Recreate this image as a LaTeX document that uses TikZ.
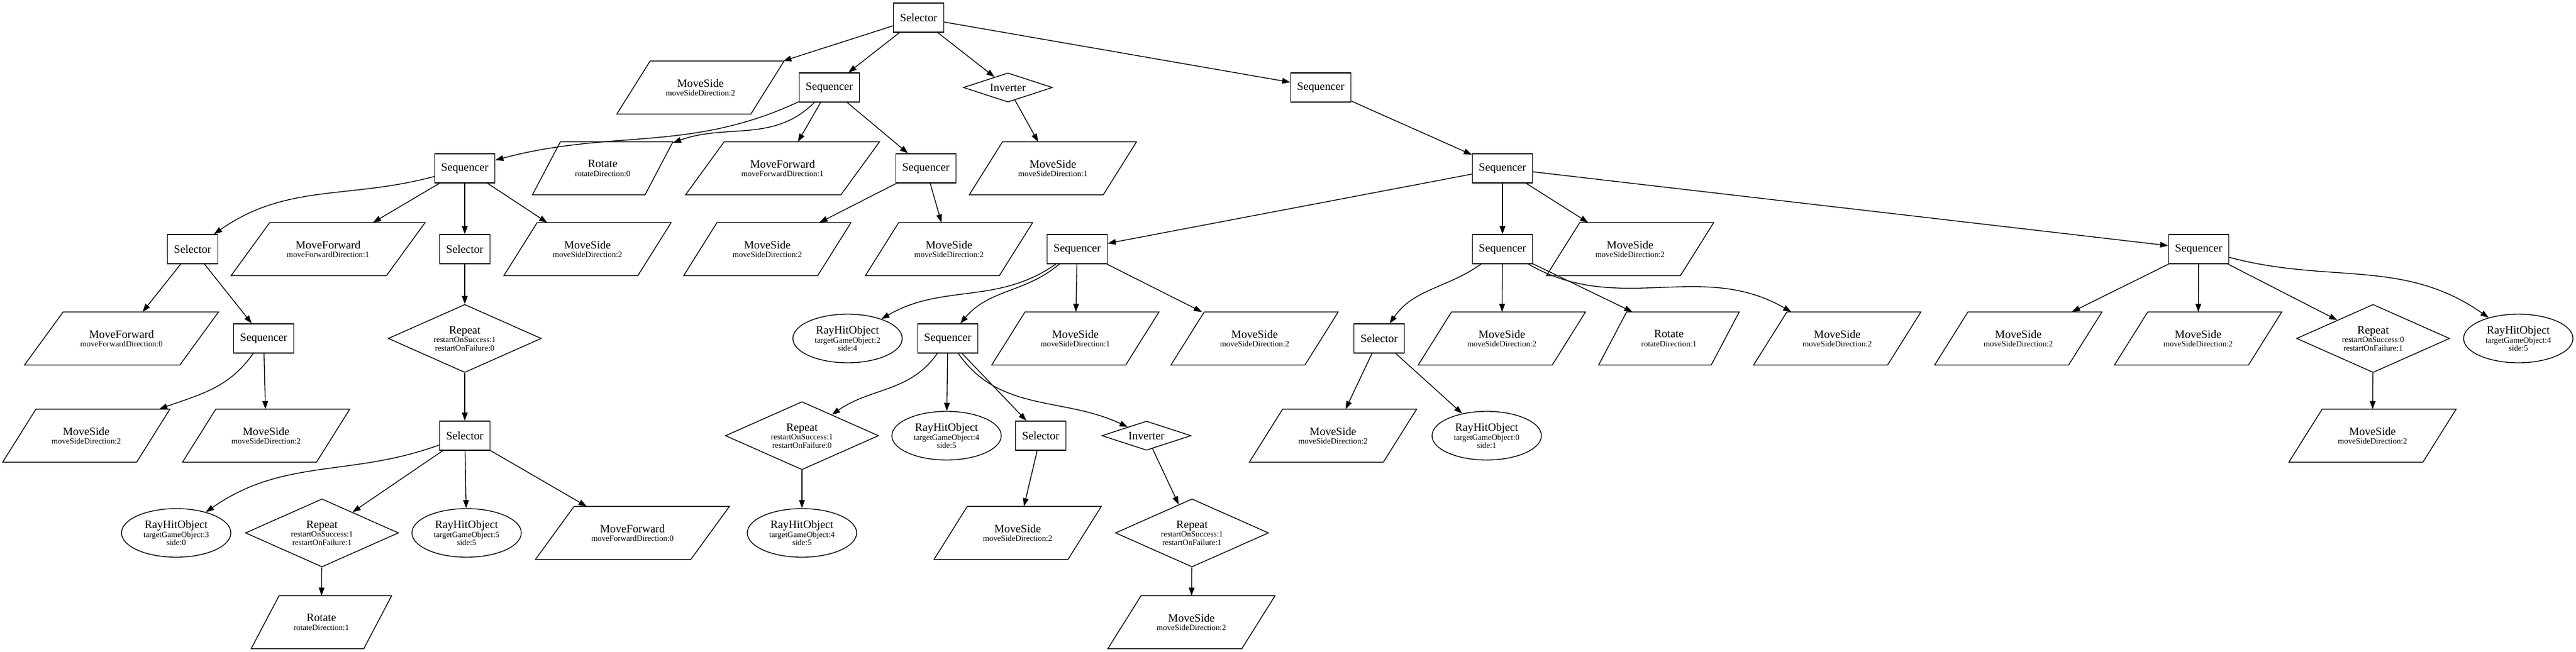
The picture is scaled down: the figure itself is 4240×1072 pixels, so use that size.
\documentclass[tikz,border=0pt]{standalone}
\usepackage{fontspec}
\setmainfont{Liberation Serif}
\usetikzlibrary{shapes.geometric,arrows.meta}

\newcommand{\nodetitle}[1]{{\fontsize{14}{14}\selectfont #1}}

\tikzset{
    ctrl/.style={draw,rectangle,minimum height=36pt,inner xsep=8pt,font=\fontsize{14}{14}\selectfont},
    act/.style={minimum width=#1,minimum height=64.5pt,inner sep=0pt,align=center,
        font=\fontsize{10}{10}\selectfont,
        append after command={([xshift=0.2*#1]\tikzlastnode.north west) -- (\tikzlastnode.north east)
            -- ([xshift=-0.2*#1]\tikzlastnode.south east) -- (\tikzlastnode.south west) -- cycle}},
    act/.default=205.5pt,
    cond/.style={draw,ellipse,minimum width=135pt,minimum height=60pt,inner sep=0pt,align=center,
        font=\fontsize{10}{10}\selectfont},
    repnode/.style={draw,diamond,aspect=2.25,minimum width=189pt,minimum height=84pt,inner sep=0pt,
        align=center,font=\fontsize{10}{10}\selectfont},
    invnode/.style={draw,diamond,aspect=3,minimum width=110pt,minimum height=36pt,inner sep=0pt,
        font=\fontsize{14}{14}\selectfont}
}

\begin{document}
\begin{tikzpicture}[x=0.75pt,y=-0.75pt,line width=1pt,>={Triangle[length=10pt,width=7pt]}]
        \useasboundingbox (0,0) rectangle (4240,1072);
        \draw (1512,29) node[ctrl](sel0) {Selector};
        \draw (1153,144) node[act](ms1) {\nodetitle{MoveSide}\\[1pt]moveSideDirection:2};
        \draw (1365,144) node[ctrl](seq1) {Sequencer};
        \draw (1659,144) node[invnode](inv1) {Inverter};
        \draw (2174,144) node[ctrl](seq2) {Sequencer};
        \draw (765,277) node[ctrl](seq3) {Sequencer};
        \draw (992,277) node[act=172.5pt](rot0) {\nodetitle{Rotate}\\[1pt]rotateDirection:0};
        \draw (1288,277) node[act=238.5pt](mf1) {\nodetitle{MoveForward}\\[1pt]moveForwardDirection:1};
        \draw (1524,277) node[ctrl](seq4) {Sequencer};
        \draw (1733,277) node[act](ms2) {\nodetitle{MoveSide}\\[1pt]moveSideDirection:1};
        \draw (2473,277) node[ctrl](seq5) {Sequencer};
        \draw (317,410) node[ctrl](sel1) {Selector};
        \draw (540,410) node[act=238.5pt](mf2) {\nodetitle{MoveForward}\\[1pt]moveForwardDirection:1};
        \draw (765,410) node[ctrl](sel2) {Selector};
        \draw (967,410) node[act](ms3) {\nodetitle{MoveSide}\\[1pt]moveSideDirection:2};
        \draw (1263,410) node[act](ms4) {\nodetitle{MoveSide}\\[1pt]moveSideDirection:2};
        \draw (1562,410) node[act](ms5) {\nodetitle{MoveSide}\\[1pt]moveSideDirection:2};
        \draw (1773,410) node[ctrl](seq6) {Sequencer};
        \draw (2473,410) node[ctrl](seq7) {Sequencer};
        \draw (2683,410) node[act](ms6) {\nodetitle{MoveSide}\\[1pt]moveSideDirection:2};
        \draw (3619,410) node[ctrl](seq8) {Sequencer};
        \draw (200,557) node[act=238.5pt](mf3) {\nodetitle{MoveForward}\\[1pt]moveForwardDirection:0};
        \draw (434,557) node[ctrl](seq9) {Sequencer};
        \draw (765,557) node[repnode](rep1) {\nodetitle{Repeat}\\[1pt]restartOnSuccess:1\\restartOnFailure:0};
        \draw (1395,557) node[cond](ray1) {\nodetitle{RayHitObject}\\[1pt]targetGameObject:2\\side:4};
        \draw (1560,557) node[ctrl](seq10) {Sequencer};
        \draw (1770,557) node[act](ms7) {\nodetitle{MoveSide}\\[1pt]moveSideDirection:1};
        \draw (2065,557) node[act](ms8) {\nodetitle{MoveSide}\\[1pt]moveSideDirection:2};
        \draw (2270,557) node[ctrl](sel3) {Selector};
        \draw (2472,557) node[act](ms9) {\nodetitle{MoveSide}\\[1pt]moveSideDirection:2};
        \draw (2747,557) node[act=172.5pt](rot1) {\nodetitle{Rotate}\\[1pt]rotateDirection:1};
        \draw (3024,557) node[act](ms10) {\nodetitle{MoveSide}\\[1pt]moveSideDirection:2};
        \draw (3322,557) node[act](ms11) {\nodetitle{MoveSide}\\[1pt]moveSideDirection:2};
        \draw (3618,557) node[act](ms12) {\nodetitle{MoveSide}\\[1pt]moveSideDirection:2};
        \draw (3906,557) node[repnode](rep2) {\nodetitle{Repeat}\\[1pt]restartOnSuccess:0\\restartOnFailure:1};
        \draw (4145,557) node[cond](ray2) {\nodetitle{RayHitObject}\\[1pt]targetGameObject:4\\side:5};
        \draw (142,717) node[act](ms13) {\nodetitle{MoveSide}\\[1pt]moveSideDirection:2};
        \draw (438,717) node[act](ms14) {\nodetitle{MoveSide}\\[1pt]moveSideDirection:2};
        \draw (765,717) node[ctrl](sel4) {Selector};
        \draw (1320,717) node[repnode](rep3) {\nodetitle{Repeat}\\[1pt]restartOnSuccess:1\\restartOnFailure:0};
        \draw (1558,717) node[cond](ray3) {\nodetitle{RayHitObject}\\[1pt]targetGameObject:4\\side:5};
        \draw (1713,717) node[ctrl](sel5) {Selector};
        \draw (1887,717) node[invnode](inv2) {Inverter};
        \draw (2194,717) node[act](ms15) {\nodetitle{MoveSide}\\[1pt]moveSideDirection:2};
        \draw (2447,717) node[cond](ray4) {\nodetitle{RayHitObject}\\[1pt]targetGameObject:0\\side:1};
        \draw (3905,717) node[act](ms16) {\nodetitle{MoveSide}\\[1pt]moveSideDirection:2};
        \draw (290,877) node[cond](ray5) {\nodetitle{RayHitObject}\\[1pt]targetGameObject:3\\side:0};
        \draw (530,877) node[repnode](rep4) {\nodetitle{Repeat}\\[1pt]restartOnSuccess:1\\restartOnFailure:1};
        \draw (768,877) node[cond](ray6) {\nodetitle{RayHitObject}\\[1pt]targetGameObject:5\\side:5};
        \draw (1041,877) node[act=238.5pt](mf4) {\nodetitle{MoveForward}\\[1pt]moveForwardDirection:0};
        \draw (1320,877) node[cond](ray7) {\nodetitle{RayHitObject}\\[1pt]targetGameObject:4\\side:5};
        \draw (1675,877) node[act](ms17) {\nodetitle{MoveSide}\\[1pt]moveSideDirection:2};
        \draw (1962,877) node[repnode](rep5) {\nodetitle{Repeat}\\[1pt]restartOnSuccess:1\\restartOnFailure:1};
        \draw (529,1024) node[act=172.5pt](rot2) {\nodetitle{Rotate}\\[1pt]rotateDirection:1};
        \draw (1961,1024) node[act](ms18) {\nodetitle{MoveSide}\\[1pt]moveSideDirection:2};

        \draw[->] (sel0) -- (ms1);
        \draw[->] (sel0) -- (seq1);
        \draw[->] (sel0) -- (inv1);
        \draw[->] (sel0) -- (seq2);
        \draw[->] (seq1) to[out=205,in=15] (seq3);
        \draw[->] (seq1) to[out=225,in=20] (rot0);
        \draw[->] (seq1) -- (mf1);
        \draw[->] (seq1) -- (seq4);
        \draw[->] (inv1) -- (ms2);
        \draw[->] (seq2) -- (seq5);
        \draw[->] (seq3) to[out=195,in=35] (sel1);
        \draw[->] (seq3) -- (mf2);
        \draw[->] (seq3) -- (sel2);
        \draw[->] (seq3) -- (ms3);
        \draw[->] (seq4) -- (ms4);
        \draw[->] (seq4) -- (ms5);
        \draw[->] (seq5) -- (seq6);
        \draw[->] (seq5) -- (seq7);
        \draw[->] (seq5) -- (ms6);
        \draw[->] (seq5) -- (seq8);
        \draw[->] (sel1) -- (mf3);
        \draw[->] (sel1) -- (seq9);
        \draw[->] (sel2) -- (rep1);
        \draw[->] (seq6) to[out=215,in=30] (ray1);
        \draw[->] (seq6) to[out=220,in=50] (seq10);
        \draw[->] (seq6) -- (ms7);
        \draw[->] (seq6) -- (ms8);
        \draw[->] (seq7) to[out=215,in=55] (sel3);
        \draw[->] (seq7) -- (ms9);
        \draw[->] (seq7) -- ([xshift=-45pt]rot1.north);
        \draw[->] (seq7) to[out=-30,in=150] (ms10);
        \draw[->] (seq8) -- (ms11);
        \draw[->] (seq8) -- (ms12);
        \draw[->] (seq8) -- (rep2);
        \draw[->] (seq8) to[out=-15,in=145] (ray2);
        \draw[->] (seq9) to[out=235,in=20] (ms13);
        \draw[->] (seq9) -- (ms14);
        \draw[->] (rep1) -- (sel4);
        \draw[->] (seq10) to[out=235,in=35] (rep3);
        \draw[->] (seq10) -- (ray3);
        \draw[->] (seq10) -- (sel5);
        \draw[->] (seq10) to[out=-55,in=155] (inv2);
        \draw[->] (sel3) -- (ms15);
        \draw[->] (sel3) -- (ray4);
        \draw[->] (rep2) -- (ms16);
        \draw[->] (sel4) to[out=200,in=35] (ray5);
        \draw[->] (sel4) -- (rep4);
        \draw[->] (sel4) -- (ray6);
        \draw[->] (sel4) -- (mf4);
        \draw[->] (rep3) -- (ray7);
        \draw[->] (sel5) -- (ms17);
        \draw[->] (inv2) -- (rep5);
        \draw[->] (rep4) -- (rot2);
        \draw[->] (rep5) -- (ms18);
    \end{tikzpicture}
\end{document}
